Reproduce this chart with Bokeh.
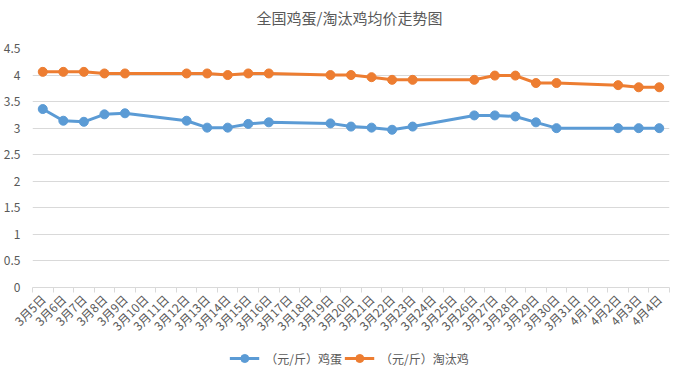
import math
from bokeh.plotting import figure
from bokeh.layouts import column
from bokeh.models import Range1d, FixedTicker, NumeralTickFormatter, Legend, LegendItem, Label
from bokeh.embed import file_html
from bokeh.resources import INLINE

title = "全国鸡蛋/淘汰鸡均价走势图"
categories = ["3月5日", "3月6日", "3月7日", "3月8日", "3月9日", "3月10日", "3月11日",
              "3月12日", "3月13日", "3月14日", "3月15日", "3月16日", "3月17日", "3月18日",
              "3月19日", "3月20日", "3月21日", "3月22日", "3月23日", "3月24日", "3月25日",
              "3月26日", "3月27日", "3月28日", "3月29日", "3月30日", "3月31日", "4月1日",
              "4月2日", "4月3日", "4月4日"]
dates = ["3月5日", "3月6日", "3月7日", "3月8日", "3月9日", "3月12日", "3月13日", "3月14日",
         "3月15日", "3月16日", "3月19日", "3月20日", "3月21日", "3月22日", "3月23日",
         "3月26日", "3月27日", "3月28日", "3月29日", "3月30日", "4月2日", "4月3日", "4月4日"]
egg = [3.36, 3.14, 3.12, 3.26, 3.28, 3.14, 3.01, 3.01, 3.08, 3.11, 3.09, 3.03, 3.01,
       2.97, 3.03, 3.24, 3.24, 3.22, 3.11, 3.00, 3.00, 3.00, 3.00]
hen = [4.06, 4.06, 4.06, 4.03, 4.03, 4.03, 4.03, 4.00, 4.03, 4.03, 4.00, 4.00, 3.96,
       3.91, 3.91, 3.91, 3.99, 3.99, 3.85, 3.85, 3.81, 3.77, 3.77]
series_names = ["（元/斤）鸡蛋", "（元/斤）淘汰鸡"]
y_ticks = [0, 0.5, 1, 1.5, 2, 2.5, 3, 3.5, 4, 4.5]

FONT = "Noto Sans CJK SC"
GRAY = "#595959"
GRID = "#d9d9d9"
BLUE = "#5b9bd5"
ORANGE = "#ed7d31"

xs = [categories.index(d) for d in dates]


def strip(height):
    f = figure(width=670, height=height, output_backend="svg", toolbar_location=None,
               x_range=Range1d(0, 1), y_range=Range1d(0, 1),
               min_border_left=0, min_border_right=0, min_border_top=0, min_border_bottom=0)
    f.axis.visible = False
    f.grid.visible = False
    f.outline_line_color = None
    return f


# title strip
t = strip(34)
t.add_layout(Label(x=0.5, y=0.5, text=title, text_align="center", text_baseline="middle",
                   text_font=FONT, text_font_size="15px", text_color=GRAY))

# main chart
p = figure(frame_width=637, frame_height=239, output_backend="svg", toolbar_location=None,
           x_range=Range1d(-0.5, len(categories) - 0.5), y_range=Range1d(0, 4.5),
           min_border_left=29, min_border_right=4, min_border_top=14, min_border_bottom=55)
p.outline_line_color = None
p.background_fill_color = "white"
p.border_fill_color = "white"

xa = p.xaxis[0]
xa.ticker = FixedTicker(ticks=list(range(len(categories))),
                        minor_ticks=[i - 0.5 for i in range(len(categories) + 1)])
xa.major_label_overrides = {i: c for i, c in enumerate(categories)}
xa.major_label_orientation = math.pi / 4
xa.major_tick_line_color = None
xa.major_tick_out = 0
xa.minor_tick_in = 0
xa.minor_tick_out = 5
xa.minor_tick_line_color = GRID
xa.axis_line_color = GRID
xa.major_label_text_font = FONT
xa.major_label_text_font_size = "12px"
xa.major_label_text_color = GRAY
xa.major_label_standoff = 4

ya = p.yaxis[0]
ya.ticker = FixedTicker(ticks=y_ticks)
ya.formatter = NumeralTickFormatter(format="0.[0]")
ya.axis_line_color = None
ya.major_tick_line_color = None
ya.minor_tick_line_color = None
ya.major_label_text_font = FONT
ya.major_label_text_font_size = "12px"
ya.major_label_text_color = GRAY
ya.major_label_standoff = 6

p.xgrid.grid_line_color = None
p.ygrid.grid_line_color = GRID

p.line(xs, egg, line_color=BLUE, line_width=3)
p.scatter(xs, egg, size=9, fill_color=BLUE, line_color=BLUE)
p.line(xs, hen, line_color=ORANGE, line_width=3)
p.scatter(xs, hen, size=9, fill_color=ORANGE, line_color=ORANGE)

# legend strip (its renderers fall outside this strip's ranges, only the legend shows)
q = strip(32)
ql1 = q.line(xs, egg, line_color=BLUE, line_width=3)
qs1 = q.scatter(xs, egg, size=9, fill_color=BLUE, line_color=BLUE)
ql2 = q.line(xs, hen, line_color=ORANGE, line_width=3)
qs2 = q.scatter(xs, hen, size=9, fill_color=ORANGE, line_color=ORANGE)

legend = Legend(items=[LegendItem(label=series_names[0], renderers=[ql1, qs1]),
                       LegendItem(label=series_names[1], renderers=[ql2, qs2])],
                orientation="horizontal", location="center")
legend.border_line_color = None
legend.background_fill_alpha = 0
legend.label_text_font = FONT
legend.label_text_font_size = "12px"
legend.label_text_color = GRAY
legend.glyph_width = 30
legend.label_standoff = 6
legend.spacing = 2
legend.padding = 0
legend.margin = 0
q.add_layout(legend, "center")

layout = column(t, p, q, spacing=0)
open("out.html", "w").write(file_html(layout, INLINE))
